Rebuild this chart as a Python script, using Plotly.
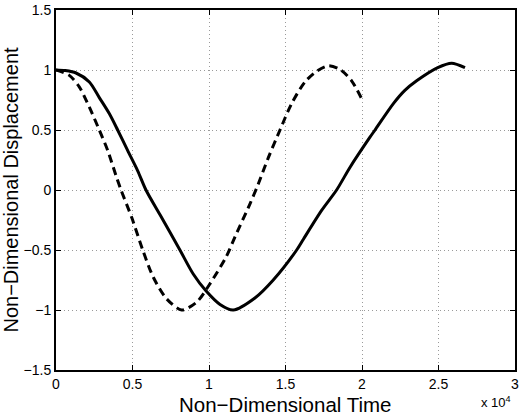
import plotly.graph_objects as go

# Non-dimensional time (raw units, axis shown as x 10^4)
time_solid = [0, 600, 1310, 2180, 2830, 3490, 4030, 4680, 5340, 5880, 6800, 8100, 8970,
              9800, 10720, 11590, 13000, 14200, 15730, 16170, 17360, 18340, 19220,
              20520, 20850, 22050, 22800, 23570, 24950, 25860, 26730]
disp_solid = [1.0, 0.995, 0.975, 0.90, 0.77, 0.635, 0.50, 0.33, 0.16, 0.0, -0.207, -0.5, -0.7,
              -0.84, -0.954, -1.0, -0.9, -0.75, -0.5, -0.41, -0.17, 0.0, 0.19,
              0.44, 0.5, 0.72, 0.83, 0.91, 1.02, 1.057, 1.02]

time_dashed = [0, 870, 1520, 2180, 2830, 3380, 3920, 4250, 4950, 5670, 6360, 7230,
               8210, 9190, 10070, 11150, 11700, 12680, 13220, 13880, 14640, 15400,
               16270, 17040, 17800, 18560, 19320, 19980]
disp_dashed = [1.0, 0.955, 0.86, 0.69, 0.50, 0.33, 0.12, 0.0, -0.23, -0.5, -0.727, -0.907,
               -1.0, -0.935, -0.78, -0.55, -0.39, -0.115, 0.05, 0.27, 0.5, 0.72,
               0.90, 0.99, 1.035, 1.005, 0.91, 0.76]

x_tickvals = [0, 5000, 10000, 15000, 20000, 25000, 30000]
x_ticktext = ["0", "0.5", "1", "1.5", "2", "2.5", "3"]
y_tickvals = [-1.5, -1, -0.5, 0, 0.5, 1, 1.5]
y_ticktext = ["\u22121.5", "\u22121", "\u22120.5", "0", "0.5", "1", "1.5"]

FONT = "Liberation Sans, Arial, Helvetica, sans-serif"

fig = go.Figure()
fig.add_trace(go.Scatter(x=time_solid, y=disp_solid, mode="lines",
                         line=dict(color="black", width=3, shape="spline", smoothing=0.8),
                         showlegend=False))
fig.add_trace(go.Scatter(x=time_dashed, y=disp_dashed, mode="lines",
                         line=dict(color="black", width=3, dash="8px,5px", shape="spline",
                                   smoothing=0.8),
                         showlegend=False))

axis_common = dict(showline=True, linecolor="black", linewidth=2, mirror="ticks",
                   ticks="inside", ticklen=5, tickcolor="black", tickwidth=1,
                   showgrid=True, gridcolor="#9a9a9a", griddash="1px,3px", gridwidth=1,
                   zeroline=False, automargin=False,
                   tickfont=dict(family=FONT, size=14, color="black"))

fig.update_xaxes(range=[0, 30000], tickvals=x_tickvals, ticktext=x_ticktext,
                 **axis_common)
fig.update_yaxes(range=[-1.5, 1.5], tickvals=y_tickvals, ticktext=y_ticktext,
                 title=dict(text="Non\u2212Dimensional Displacement",
                            font=dict(family=FONT, size=20, color="black"), standoff=4),
                 **axis_common)

fig.add_annotation(xref="paper", yref="paper", x=0.5, y=-0.095, xanchor="center",
                   yanchor="middle", text="Non\u2212Dimensional Time", showarrow=False,
                   font=dict(family=FONT, size=20.5, color="black"))

fig.add_annotation(xref="paper", yref="paper", x=0.995, y=-0.118, xanchor="right",
                   yanchor="bottom", text="x 10<sup>4</sup>", showarrow=False,
                   font=dict(family=FONT, size=13, color="black"))

fig.update_layout(width=522, height=416, margin=dict(l=56, r=7, t=10, b=46),
                  plot_bgcolor="white", paper_bgcolor="white",
                  font=dict(family=FONT, color="black"))

fig.write_html("out.html")
